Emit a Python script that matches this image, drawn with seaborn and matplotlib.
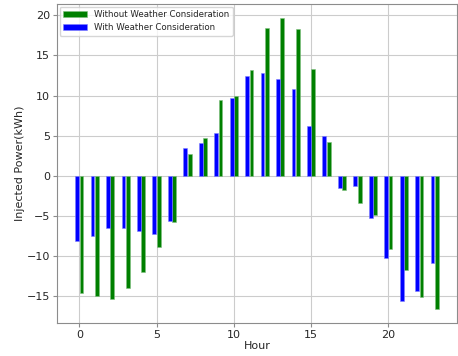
import numpy as np
import matplotlib
matplotlib.use("Agg")
import matplotlib.pyplot as plt
import seaborn as sns

hours = list(range(24))
without_weather = [-14.6, -14.9, -15.3, -13.9, -12.0, -8.9, -5.7, 2.7, 4.75, 9.4, 9.95, 13.2,
                   18.4, 19.6, 18.3, 13.35, 4.25, -1.7, -3.4, -4.9, -9.1, -11.7, -15.1, -16.5]
with_weather = [-8.1, -7.5, -6.5, -6.5, -6.8, -7.2, -5.6, 3.45, 4.1, 5.3, 9.7, 12.4,
                12.85, 12.05, 10.8, 6.25, 4.95, -1.5, -1.25, -5.2, -10.2, -15.6, -14.35, -10.8]

sns.set_style("whitegrid", {"axes.edgecolor": "0.55", "grid.color": "0.8",
                            "xtick.bottom": True, "ytick.left": True})
plt.rcParams['font.family'] = ['DejaVu Sans']

fig = plt.figure(figsize=(4.58, 3.56), dpi=100)
ax = fig.add_axes([57 / 458, 33 / 356, 400 / 458, 319 / 356])

x = np.array(hours)
w = 0.25
b2 = ax.bar(x + 0.14, without_weather, width=w, color="green", edgecolor="#80c080", linewidth=0.4,
            label="Without Weather Consideration")
b1 = ax.bar(x - 0.14, with_weather, width=w, color="blue", edgecolor="#8080ff", linewidth=0.4,
            label="With Weather Consideration")

ax.set_xticks([0, 5, 10, 15, 20])
ax.tick_params(labelsize=8, length=3, pad=2, color="0.55")
ax.set_xlabel("Hour", fontsize=8, labelpad=1)
ax.set_ylabel("Injected Power(kWh)", fontsize=8, labelpad=1)
ax.legend(handles=[b2, b1], loc="upper left", fontsize=6.2, frameon=True,
          borderaxespad=0.3, handlelength=2.8)

fig.savefig("out.png", dpi=100)
